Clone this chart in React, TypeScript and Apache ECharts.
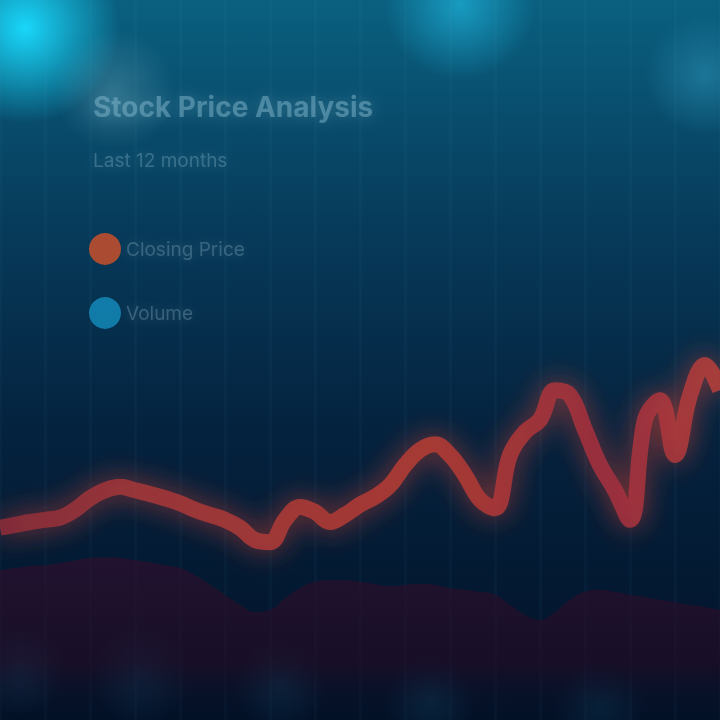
import React, { useEffect, useRef } from "react";
import * as echarts from "echarts";

const titleText = "Stock Price Analysis";
const subtitleText = "Last 12 months";
const seriesNames = ["Closing Price", "Volume"];

const categories = Array.from({ length: 49 }, (_, i) => `D${i + 1}`);

const priceValues = [
  26.7, 27.1, 27.5, 27.8, 28.1, 29.2, 30.8, 31.9, 32.4, 31.9, 31.4, 30.8, 30.1,
  29.2, 28.5, 27.8, 26.7, 25.0, 24.7, 27.8, 29.6, 28.9, 27.5, 28.5, 29.9, 31.0,
  32.6, 35.4, 37.5, 38.3, 36.8, 34.0, 30.6, 29.4, 36.8, 40.0, 41.7, 45.8, 45.1,
  40.3, 35.4, 31.9, 27.8, 41.7, 44.4, 36.8, 45.1, 49.3, 45.8,
];

const volumeValues = [
  20.8, 21.1, 21.4, 21.5, 21.8, 22.2, 22.5, 22.6, 22.5, 22.2, 21.9, 21.5, 21.1,
  20.1, 18.8, 17.4, 16.0, 15.0, 15.3, 16.9, 18.3, 19.2, 19.4, 19.4, 19.2, 18.9,
  18.6, 18.8, 18.9, 18.8, 18.3, 18.1, 17.8, 17.4, 16.0, 14.6, 13.9, 15.0, 16.7,
  17.8, 18.1, 17.8, 17.4, 17.1, 16.7, 16.4, 16.0, 15.7, 15.3,
];

function glow(x: number, y: number, r: number, rgb: string, a: number) {
  return {
    type: "circle",
    silent: true,
    z: 0,
    shape: { cx: x, cy: y, r },
    style: {
      fill: new echarts.graphic.RadialGradient(0.5, 0.5, 0.5, [
        { offset: 0, color: `rgba(${rgb},${a})` },
        { offset: 0.45, color: `rgba(${rgb},${a * 0.55})` },
        { offset: 1, color: `rgba(${rgb},0)` },
      ]),
    },
  };
}

export default function App() {
  const ref = useRef<HTMLDivElement>(null);

  useEffect(() => {
    document.body.style.margin = "0";
    if (!ref.current) return;
    const chart = echarts.init(ref.current, null, { renderer: "svg" });
    const textColor = "rgba(140,190,210,0.45)";
    chart.setOption({
      animation: false,
      backgroundColor: new echarts.graphic.LinearGradient(0, 0, 0, 1, [
        { offset: 0, color: "#0a6080" },
        { offset: 0.3, color: "#073c5c" },
        { offset: 0.6, color: "#04223e" },
        { offset: 1, color: "#031127" },
      ]),
      graphic: [
        glow(25, 28, 95, "25,215,250", 1),
        glow(460, 5, 75, "30,180,220", 0.7),
        glow(705, 75, 60, "40,140,175", 0.6),
        glow(115, 90, 60, "130,190,205", 0.3),
        glow(20, 670, 45, "20,95,125", 0.35),
        glow(140, 675, 50, "20,95,125", 0.3),
        glow(280, 685, 45, "20,95,125", 0.3),
        glow(430, 700, 45, "20,95,125", 0.3),
        glow(600, 705, 45, "20,95,125", 0.25),
      ],
      title: {
        text: titleText,
        subtext: subtitleText,
        left: 88,
        top: 88,
        itemGap: 30,
        textStyle: {
          fontFamily: "Inter",
          fontSize: 28,
          fontWeight: "bold",
          color: textColor,
          textShadowBlur: 14,
          textShadowColor: "rgba(140,190,210,0.7)",
        },
        subtextStyle: {
          fontFamily: "Inter",
          fontSize: 19,
          color: "rgba(120,170,190,0.4)",
          textShadowBlur: 10,
          textShadowColor: "rgba(120,170,190,0.6)",
        },
      },
      legend: {
        orient: "vertical",
        left: 84,
        top: 228,
        itemGap: 32,
        itemWidth: 32,
        itemHeight: 32,
        icon: "circle",
        itemStyle: { opacity: 0.85 },
        textStyle: {
          fontFamily: "Inter",
          fontSize: 19,
          color: "rgba(120,160,180,0.4)",
          textShadowBlur: 10,
          textShadowColor: "rgba(120,160,180,0.6)",
        },
        data: seriesNames,
      },
      grid: { left: 0, right: 0, top: 0, bottom: 0 },
      xAxis: {
        type: "category",
        data: categories,
        boundaryGap: false,
        axisLine: { show: false },
        axisTick: { show: false },
        axisLabel: { show: false },
        splitLine: {
          show: true,
          interval: 2,
          lineStyle: { color: "rgba(110,170,200,0.04)", width: 3 },
        },
      },
      yAxis: {
        type: "value",
        min: 0,
        max: 100,
        show: false,
        splitLine: { show: false },
      },
      series: [
        {
          name: seriesNames[1],
          type: "line",
          data: volumeValues,
          smooth: true,
          symbol: "none",
          z: 2,
          itemStyle: { color: "#1488b8" },
          lineStyle: { width: 0 },
          areaStyle: {
            color: new echarts.graphic.LinearGradient(0, 0, 0, 1, [
              { offset: 0, color: "rgba(50,14,44,0.9)" },
              { offset: 0.65, color: "rgba(38,10,36,0.85)" },
              { offset: 1, color: "rgba(3,17,39,0.1)" },
            ]),
          },
        },
        {
          name: seriesNames[0],
          type: "line",
          data: priceValues,
          smooth: 0.4,
          symbol: "none",
          z: 3,
          itemStyle: { color: "#c8502c" },
          lineStyle: {
            width: 16,
            color: new echarts.graphic.LinearGradient(0, 0, 1, 0, [
              { offset: 0, color: "#8e2d3a" },
              { offset: 0.2, color: "#a8383a" },
              { offset: 0.6, color: "#b83d33" },
              { offset: 0.85, color: "#a52f3f" },
              { offset: 1, color: "#b8403a" },
            ]),
            shadowBlur: 28,
            shadowColor: "rgba(200,60,50,0.8)",
            opacity: 0.85,
          },
        },
      ],
    });
    return () => chart.dispose();
  }, []);

  return <div ref={ref} style={{ width: 720, height: 720 }} />;
}
